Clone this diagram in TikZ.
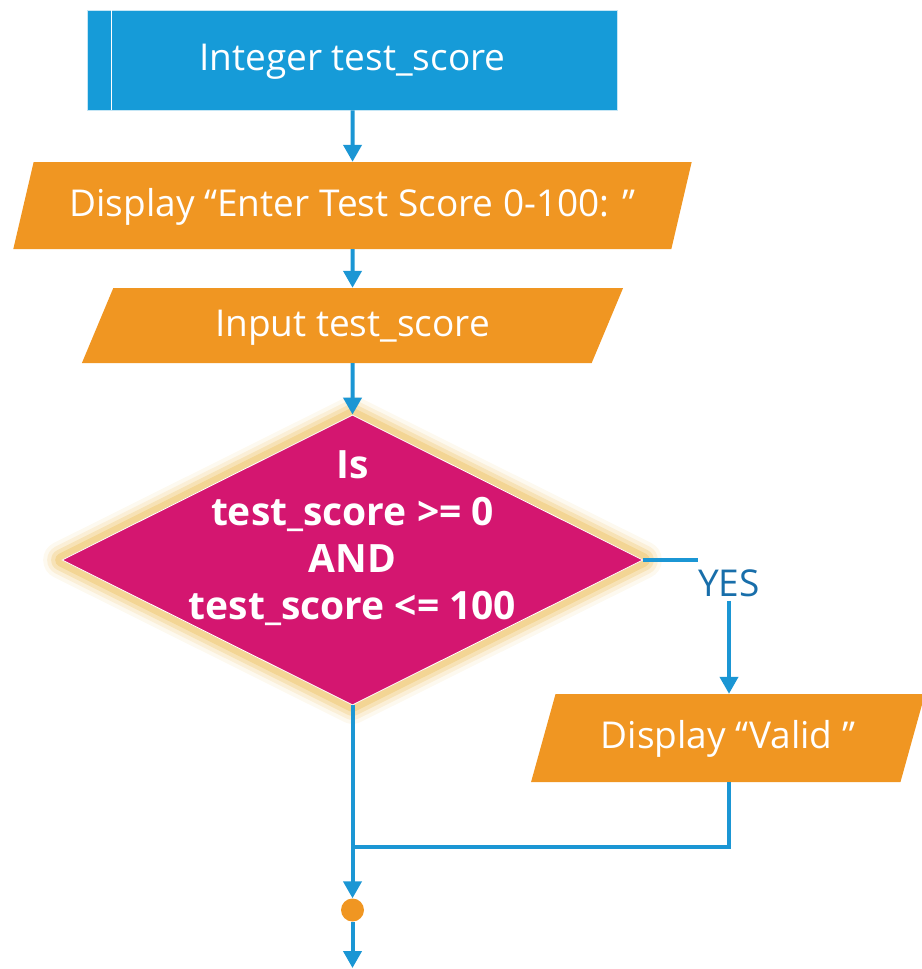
\documentclass[tikz,border=0pt]{standalone}
\usepackage{fontspec}
\setmainfont{Open Sans}
\usetikzlibrary{shapes.geometric,arrows.meta}
\definecolor{flowblue}{RGB}{22,155,216}
\definecolor{flowline}{RGB}{27,150,212}
\definecolor{floworange}{RGB}{240,150,34}
\definecolor{flowmagenta}{RGB}{212,22,112}
\definecolor{flowglow}{RGB}{240,202,120}
\definecolor{flowtext}{RGB}{24,110,170}
\begin{document}
\begin{tikzpicture}[x=1pt, y=-1pt,
    declare/.style={rectangle, fill=flowblue, draw=white!75!flowblue, line width=0.8pt,
        minimum width=530pt, minimum height=100pt, inner sep=0pt,
        text height=29pt, text depth=8pt,
        text=white, font=\fontsize{37}{44}\selectfont},
    io/.style={trapezium, trapezium left angle=64, trapezium right angle=116,
        trapezium stretches=true, fill=floworange, inner sep=0pt,
        text height=29pt, text depth=8pt,
        text=white, font=\fontsize{37}{44}\selectfont},
    decide/.style={diamond, shape aspect=2, fill=flowmagenta, draw=white, line width=0.8pt,
        minimum width=581pt, minimum height=290pt, inner sep=0pt,
        preaction={draw=flowglow, line width=38pt, line join=round, opacity=0.12},
        preaction={draw=flowglow, line width=30pt, line join=round, opacity=0.2},
        preaction={draw=flowglow, line width=22pt, line join=round, opacity=0.35},
        preaction={draw=flowglow, line width=14pt, line join=round, opacity=0.55}},
    junction/.style={circle, fill=floworange, minimum size=23pt, inner sep=0pt},
    flow/.style={draw=flowline, line width=4pt},
    flowarrow/.style={flow, -{Triangle[width=18pt,length=17pt]}}
]
    \useasboundingbox (0,0) rectangle (921,969);

    % Boxes
    \node[declare] (decl) at (352.5,60) {Integer test\_score};
    \draw[white, line width=1.2pt] ([xshift=24pt]decl.north west) -- ([xshift=24pt]decl.south west);

    \node[io, minimum width=684pt, minimum height=87pt] (prompt) at (352.5,205.5)
        {Display “Enter Test Score 0-100: ”};
    \node[io, minimum width=543pt, minimum height=75pt] (input) at (352.5,325.5)
        {Input test\_score};

    \node[decide] (check) at (352.5,560) {};
    \node[text=white, align=center, font=\bfseries\fontsize{39}{47}\selectfont]
        (checktext) at (352.5,538) {Is\\test\_score >= 0\\AND\\test\_score <= 100};

    \node[font=\fontsize{37}{44}\selectfont, text=flowtext, inner xsep=0pt, inner ysep=4pt]
        (yes) at (729,583) {YES};

    \node[io, minimum width=395pt, minimum height=88pt] (valid) at (728,738)
        {Display “Valid ”};

    \node[junction] (join) at (352.5,910) {};
    \coordinate (merge) at (352.5,847);
    \coordinate (out) at (352.5,968);

    % Connectors
    \draw[flowarrow] (decl.south) -- (prompt.north);
    \draw[flowarrow] (prompt.south) -- (input.north);
    \draw[flowarrow] (input.south) -- (check.north);
    \draw[flow] (check.east) -- (yes.west |- check.east);
    \draw[flowarrow] (yes.south) -- (yes.south |- valid.north);
    \draw[flowarrow] (check.south) -- (join.north);
    \draw[flow] (yes.south |- valid.south) |- (merge);
    \draw[flowarrow] (join.south) -- (out);
\end{tikzpicture}
\end{document}
